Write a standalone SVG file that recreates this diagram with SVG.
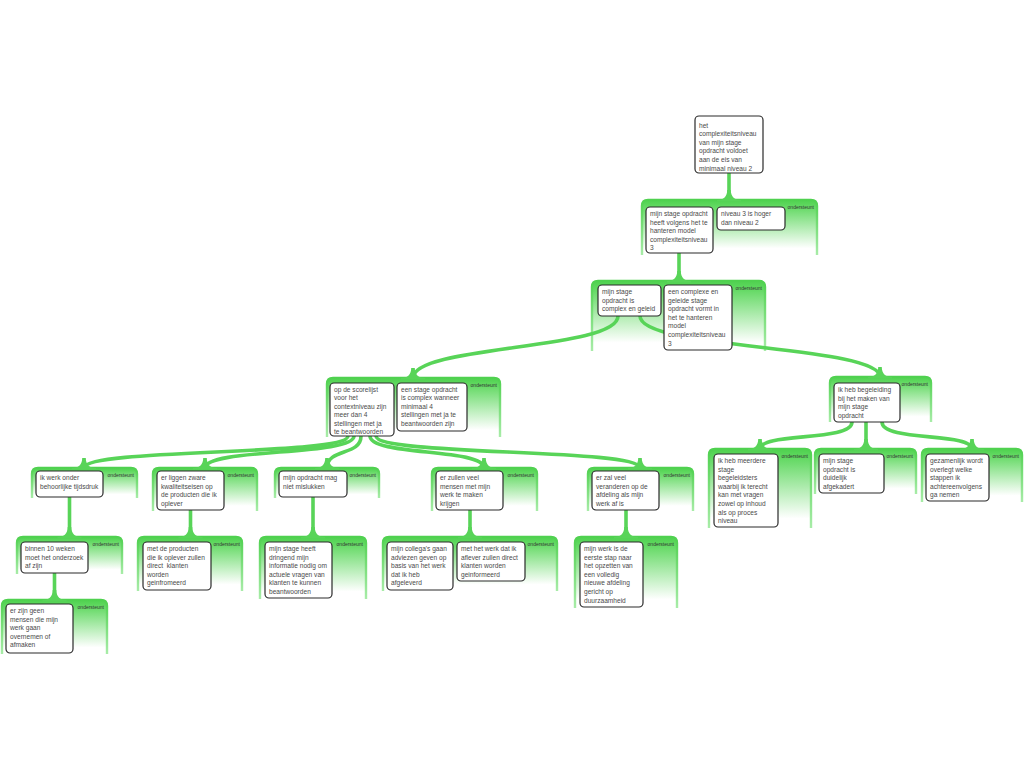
<svg xmlns="http://www.w3.org/2000/svg" xmlns:xlink="http://www.w3.org/1999/xlink" width="1024" height="768" viewBox="0 0 1024 768">
<style>
.fr{fill:url(#fg);stroke:url(#fs);stroke-width:2.4}
.bx{fill:#fff;stroke:#2a2a2a;stroke-width:1.2}
.t{font-family:"Liberation Sans",Arial,sans-serif;font-size:6.6px;fill:#4a4a4a}
.lb{font-family:"Liberation Sans",Arial,sans-serif;font-size:5px;fill:#333;text-anchor:end}
.cn{fill:none;stroke:#58d458;stroke-width:3.6}
.fl{fill:#58d458}
</style>
<defs>
<linearGradient id="fg" x1="0" y1="0" x2="0" y2="1">
<stop offset="0" stop-color="#4fd14f"/>
<stop offset="0.1" stop-color="#5fd85f"/>
<stop offset="0.88" stop-color="#ffffff"/>
</linearGradient>
<linearGradient id="fs" x1="0" y1="0" x2="0" y2="1">
<stop offset="0" stop-color="#4fd14f"/>
<stop offset="1" stop-color="#a8eca8"/>
</linearGradient>
<path id="fil" d="M-1.8,-10 C-1.8,-3 -6,0 -12,0 L-12,1.5 L12,1.5 L12,0 C6,0 1.8,-3 1.8,-10 Z"/>
</defs>
<rect width="1024" height="768" fill="#fff"/>

<g id="frames">
<g id="frame1"><path class="fr" d="M642,255 V206 Q642,200 648,200 H811 Q817,200 817,206 V255"/><text class="lb" x="814" y="209">ondersteunt</text></g>
<g id="frame2"><path class="fr" d="M592,351 V287 Q592,281 598,281 H759 Q765,281 765,287 V351"/><text class="lb" x="762" y="290">ondersteunt</text></g>
<g id="frame3a"><path class="fr" d="M327,437 V384 Q327,378 333,378 H494 Q500,378 500,384 V437"/><text class="lb" x="497" y="387">ondersteunt</text></g>
<g id="frame3b"><path class="fr" d="M830,422 V383 Q830,377 836,377 H925 Q931,377 931,383 V422"/><text class="lb" x="928" y="386">ondersteunt</text></g>
<g id="frameA"><path class="fr" d="M709,528 V455 Q709,449 715,449 H805 Q811,449 811,455 V528"/><text class="lb" x="808" y="458">ondersteunt</text></g>
<g id="frameB"><path class="fr" d="M815,494 V455 Q815,449 821,449 H910 Q916,449 916,455 V494"/><text class="lb" x="913" y="458">ondersteunt</text></g>
<g id="frameC"><path class="fr" d="M922,502 V455 Q922,449 928,449 H1016 Q1022,449 1022,455 V502"/><text class="lb" x="1019" y="458">ondersteunt</text></g>
<g id="frameF1"><path class="fr" d="M32,498 V474 Q32,468 38,468 H131 Q137,468 137,474 V498"/><text class="lb" x="134" y="477">ondersteunt</text></g>
<g id="frameF2"><path class="fr" d="M153,511 V474 Q153,468 159,468 H251 Q257,468 257,474 V511"/><text class="lb" x="254" y="477">ondersteunt</text></g>
<g id="frameF3"><path class="fr" d="M275,498 V474 Q275,468 281,468 H373 Q379,468 379,474 V498"/><text class="lb" x="376" y="477">ondersteunt</text></g>
<g id="frameF4"><path class="fr" d="M432,511 V474 Q432,468 438,468 H531 Q537,468 537,474 V511"/><text class="lb" x="534" y="477">ondersteunt</text></g>
<g id="frameF5"><path class="fr" d="M588,511 V474 Q588,468 594,468 H687 Q693,468 693,474 V511"/><text class="lb" x="690" y="477">ondersteunt</text></g>
<g id="frameG1"><path class="fr" d="M17,574 V543 Q17,537 23,537 H116 Q122,537 122,543 V574"/><text class="lb" x="119" y="546">ondersteunt</text></g>
<g id="frameG2"><path class="fr" d="M138,591 V543 Q138,537 144,537 H236 Q242,537 242,543 V591"/><text class="lb" x="240" y="546">ondersteunt</text></g>
<g id="frameG3"><path class="fr" d="M260,599 V543 Q260,537 266,537 H360 Q366,537 366,543 V599"/><text class="lb" x="363" y="546">ondersteunt</text></g>
<g id="frameG4"><path class="fr" d="M383,591 V543 Q383,537 389,537 H551 Q557,537 557,543 V591"/><text class="lb" x="554" y="546">ondersteunt</text></g>
<g id="frameG5"><path class="fr" d="M575,608 V543 Q575,537 581,537 H671 Q677,537 677,543 V608"/><text class="lb" x="674" y="546">ondersteunt</text></g>
<g id="frameH1"><path class="fr" d="M2,654 V606 Q2,600 8,600 H101 Q107,600 107,606 V654"/><text class="lb" x="104" y="609">ondersteunt</text></g>
</g>

<g id="connectors">
<path class="cn" d="M729,173 V200"/>
<path class="cn" d="M679,253 V281"/>
<path class="cn" d="M618,316 C618,350 413,345 413,378"/>
<path class="cn" d="M640,316 C640,350 880,345 880,377"/>
<path class="cn" d="M348,436 C348,456 84,448 84,468"/>
<path class="cn" d="M354,436 C354,456 205,448 205,468"/>
<path class="cn" d="M361,436 C361,456 327,448 327,468"/>
<path class="cn" d="M370,436 C370,456 484,448 484,468"/>
<path class="cn" d="M376,436 C376,456 640,448 640,468"/>
<path class="cn" d="M852,422 C852,442 760,432 760,449"/>
<path class="cn" d="M866,422 V449"/>
<path class="cn" d="M882,422 C882,442 972,432 972,449"/>
<path class="cn" d="M69.5,497 V537"/>
<path class="cn" d="M190.5,510 V537"/>
<path class="cn" d="M313,497 V537"/>
<path class="cn" d="M470,510 V537"/>
<path class="cn" d="M626,510 V537"/>
<path class="cn" d="M54.5,573 V600"/>
<g class="fl">
<use xlink:href="#fil" x="729" y="200"/>
<use xlink:href="#fil" x="679" y="281"/>
<use xlink:href="#fil" x="413" y="378"/>
<use xlink:href="#fil" x="880" y="377"/>
<use xlink:href="#fil" x="84" y="468"/>
<use xlink:href="#fil" x="205" y="468"/>
<use xlink:href="#fil" x="327" y="468"/>
<use xlink:href="#fil" x="484" y="468"/>
<use xlink:href="#fil" x="640" y="468"/>
<use xlink:href="#fil" x="760" y="449"/>
<use xlink:href="#fil" x="866" y="449"/>
<use xlink:href="#fil" x="972" y="449"/>
<use xlink:href="#fil" x="69.5" y="537"/>
<use xlink:href="#fil" x="190.5" y="537"/>
<use xlink:href="#fil" x="313" y="537"/>
<use xlink:href="#fil" x="470" y="537"/>
<use xlink:href="#fil" x="626" y="537"/>
<use xlink:href="#fil" x="54.5" y="600"/>
</g>
</g>

<g id="root">
<rect class="bx" x="695" y="116" width="68" height="57" rx="4"/>
<text class="t" y="127.5"><tspan x="699">het</tspan><tspan x="699" dy="8.6">complexiteitsniveau</tspan><tspan x="699" dy="8.6">van mijn stage</tspan><tspan x="699" dy="8.6">opdracht voldoet</tspan><tspan x="699" dy="8.6">aan de eis van</tspan><tspan x="699" dy="8.6">minimaal niveau 2</tspan></text>
</g>
<g id="n1a"><rect class="bx" x="646" y="207" width="67" height="46" rx="4"/>
<text class="t" y="216"><tspan x="650">mijn stage opdracht</tspan><tspan x="650" dy="8.6">heeft volgens het te</tspan><tspan x="650" dy="8.6">hanteren model</tspan><tspan x="650" dy="8.6">complexiteitsniveau</tspan><tspan x="650" dy="8.6">3</tspan></text></g>
<g id="n1b"><rect class="bx" x="717" y="207" width="68" height="23" rx="4"/>
<text class="t" y="216"><tspan x="721">niveau 3 is hoger</tspan><tspan x="721" dy="8.6">dan niveau 2</tspan></text></g>
<g id="n2a"><rect class="bx" x="598" y="285" width="63" height="31" rx="4"/>
<text class="t" y="294"><tspan x="602">mijn stage</tspan><tspan x="602" dy="8.6">opdracht is</tspan><tspan x="602" dy="8.6">complex en geleid</tspan></text></g>
<g id="n2b"><rect class="bx" x="664" y="285" width="68" height="65" rx="4"/>
<text class="t" y="294"><tspan x="668">een complexe en</tspan><tspan x="668" dy="8.6">geleide stage</tspan><tspan x="668" dy="8.6">opdracht vormt in</tspan><tspan x="668" dy="8.6">het te hanteren</tspan><tspan x="668" dy="8.6">model</tspan><tspan x="668" dy="8.6">complexiteitsniveau</tspan><tspan x="668" dy="8.6">3</tspan></text></g>
<g id="n3a1"><rect class="bx" x="330" y="383" width="64" height="53" rx="4"/>
<text class="t" y="391.5"><tspan x="334">op de scorelijst</tspan><tspan x="334" dy="8.55">voor het</tspan><tspan x="334" dy="8.55">contextniveau zijn</tspan><tspan x="334" dy="8.55">meer dan 4</tspan><tspan x="334" dy="8.55">stellingen met ja</tspan><tspan x="334" dy="8.55">te beantwoorden</tspan></text></g>
<g id="n3a2"><rect class="bx" x="397" y="383" width="70" height="48" rx="4"/>
<text class="t" y="391.5"><tspan x="401">een stage opdracht</tspan><tspan x="401" dy="8.55">is complex wanneer</tspan><tspan x="401" dy="8.55">minimaal 4</tspan><tspan x="401" dy="8.55">stellingen met ja te</tspan><tspan x="401" dy="8.55">beantwoorden zijn</tspan></text></g>
<g id="n3b"><rect class="bx" x="834" y="383" width="66" height="39" rx="4"/>
<text class="t" y="392"><tspan x="838">ik heb begeleiding</tspan><tspan x="838" dy="8.6">bij het maken van</tspan><tspan x="838" dy="8.6">mijn stage</tspan><tspan x="838" dy="8.6">opdracht</tspan></text></g>
<g id="nA"><rect class="bx" x="714" y="454" width="64" height="73" rx="4"/>
<text class="t" y="463"><tspan x="718">ik heb meerdere</tspan><tspan x="718" dy="8.6">stage</tspan><tspan x="718" dy="8.6">begeleidsters</tspan><tspan x="718" dy="8.6">waarbij ik terecht</tspan><tspan x="718" dy="8.6">kan met vragen</tspan><tspan x="718" dy="8.6">zowel op inhoud</tspan><tspan x="718" dy="8.6">als op proces</tspan><tspan x="718" dy="8.6">niveau</tspan></text></g>
<g id="nB"><rect class="bx" x="819" y="454" width="65" height="39" rx="4"/>
<text class="t" y="463"><tspan x="823">mijn stage</tspan><tspan x="823" dy="8.6">opdracht is</tspan><tspan x="823" dy="8.6">duidelijk</tspan><tspan x="823" dy="8.6">afgekadert</tspan></text></g>
<g id="nC"><rect class="bx" x="926" y="454" width="63" height="47" rx="4"/>
<text class="t" y="463"><tspan x="930">gezamenlijk wordt</tspan><tspan x="930" dy="8.6">overlegt welke</tspan><tspan x="930" dy="8.6">stappen ik</tspan><tspan x="930" dy="8.6">achtereenvolgens</tspan><tspan x="930" dy="8.6">ga nemen</tspan></text></g>
<g id="nF1"><rect class="bx" x="36" y="471" width="67" height="26" rx="4"/>
<text class="t" y="480"><tspan x="40">ik werk onder</tspan><tspan x="40" dy="8.6">behoorlijke tijdsdruk</tspan></text></g>
<g id="nF2"><rect class="bx" x="157" y="471" width="67" height="39" rx="4"/>
<text class="t" y="480"><tspan x="161">er liggen zware</tspan><tspan x="161" dy="8.6">kwaliteitseisen op</tspan><tspan x="161" dy="8.6">de producten die ik</tspan><tspan x="161" dy="8.6">oplever</tspan></text></g>
<g id="nF3"><rect class="bx" x="279" y="471" width="68" height="26" rx="4"/>
<text class="t" y="480"><tspan x="283">mijn opdracht mag</tspan><tspan x="283" dy="8.6">niet mislukken</tspan></text></g>
<g id="nF4"><rect class="bx" x="436" y="471" width="67" height="39" rx="4"/>
<text class="t" y="480"><tspan x="440">er zullen veel</tspan><tspan x="440" dy="8.6">mensen met mijn</tspan><tspan x="440" dy="8.6">werk te maken</tspan><tspan x="440" dy="8.6">krijgen</tspan></text></g>
<g id="nF5"><rect class="bx" x="592" y="471" width="67" height="39" rx="4"/>
<text class="t" y="480"><tspan x="596">er zal veel</tspan><tspan x="596" dy="8.6">veranderen op de</tspan><tspan x="596" dy="8.6">afdeling als mijn</tspan><tspan x="596" dy="8.6">werk af is</tspan></text></g>
<g id="nG1"><rect class="bx" x="21" y="542" width="67" height="31" rx="4"/>
<text class="t" y="551"><tspan x="25">binnen 10 weken</tspan><tspan x="25" dy="8.6">moet het onderzoek</tspan><tspan x="25" dy="8.6">af zijn</tspan></text></g>
<g id="nG2"><rect class="bx" x="143" y="542" width="68" height="48" rx="4"/>
<text class="t" y="551"><tspan x="147">met de producten</tspan><tspan x="147" dy="8.6">die ik oplever zullen</tspan><tspan x="147" dy="8.6" xml:space="preserve">direct  klanten</tspan><tspan x="147" dy="8.6">worden</tspan><tspan x="147" dy="8.6">geinfromeerd</tspan></text></g>
<g id="nG3"><rect class="bx" x="265" y="542" width="67" height="56" rx="4"/>
<text class="t" y="551"><tspan x="269">mijn stage heeft</tspan><tspan x="269" dy="8.6">dringend mijn</tspan><tspan x="269" dy="8.6">informatie nodig om</tspan><tspan x="269" dy="8.6">actuele vragen van</tspan><tspan x="269" dy="8.6">klanten te kunnen</tspan><tspan x="269" dy="8.6">beantwoorden</tspan></text></g>
<g id="nG4a"><rect class="bx" x="387" y="542" width="66" height="48" rx="4"/>
<text class="t" y="551"><tspan x="391">mijn collega's gaan</tspan><tspan x="391" dy="8.6">adviezen geven op</tspan><tspan x="391" dy="8.6">basis van het werk</tspan><tspan x="391" dy="8.6">dat ik heb</tspan><tspan x="391" dy="8.6">afgeleverd</tspan></text></g>
<g id="nG4b"><rect class="bx" x="457" y="542" width="68" height="39" rx="4"/>
<text class="t" y="551"><tspan x="461">met het werk dat ik</tspan><tspan x="461" dy="8.6">aflever zullen direct</tspan><tspan x="461" dy="8.6">klanten worden</tspan><tspan x="461" dy="8.6">geinformeerd</tspan></text></g>
<g id="nG5"><rect class="bx" x="580" y="542" width="63" height="65" rx="4"/>
<text class="t" y="551"><tspan x="584">mijn werk is de</tspan><tspan x="584" dy="8.6">eerste stap naar</tspan><tspan x="584" dy="8.6">het opzetten van</tspan><tspan x="584" dy="8.6">een volledig</tspan><tspan x="584" dy="8.6">nieuwe afdeling</tspan><tspan x="584" dy="8.6">gericht op</tspan><tspan x="584" dy="8.6">duurzaamheid</tspan></text></g>
<g id="nH1"><rect class="bx" x="6" y="604" width="67" height="49" rx="4"/>
<text class="t" y="613"><tspan x="10">er zijn geen</tspan><tspan x="10" dy="8.6">mensen die mijn</tspan><tspan x="10" dy="8.6">werk gaan</tspan><tspan x="10" dy="8.6">overnemen of</tspan><tspan x="10" dy="8.6">afmaken</tspan></text></g>
</svg>
